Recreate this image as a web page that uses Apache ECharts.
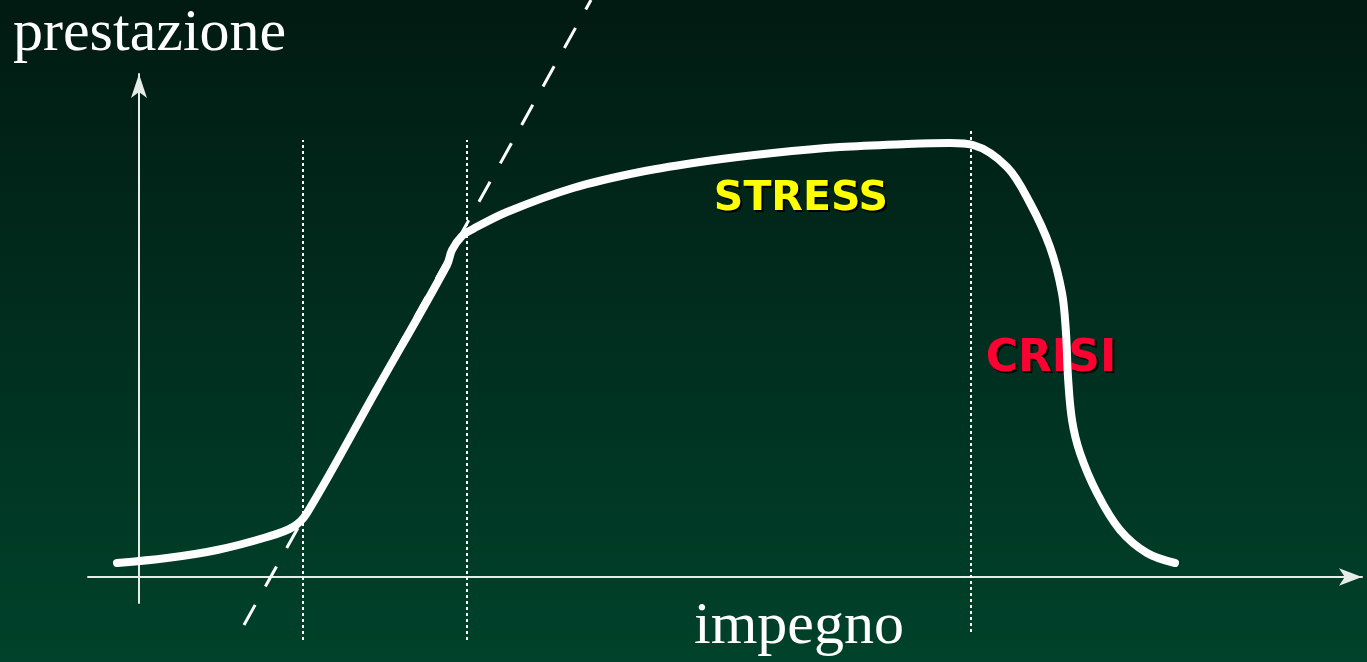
<!DOCTYPE html>
<html>
<head>
<meta charset="utf-8">
<script src="https://cdn.jsdelivr.net/npm/echarts@6/dist/echarts.min.js"></script>
<style>
  html, body { margin: 0; padding: 0; }
  #chart { width: 1367px; height: 662px; }
</style>
</head>
<body>
<div id="chart"></div>
<script>
// units: horizontal = impegno, vertical = prestazione (origin where the axes cross)
const curveX = [-22, 28, 78, 128, 154, 168, 238, 308, 313, 323, 334, 368, 434, 501, 568, 634, 701, 768, 811, 834, 868, 891, 911, 923, 927, 929, 933, 941, 958, 981, 1008, 1036]
const curveY = [14, 19, 27, 40, 50, 64, 188, 312, 327, 341, 348, 365, 389, 405, 416, 424, 430, 433, 434, 432, 410, 374, 330, 284, 244, 200, 157, 124, 84, 47, 24, 14]

// dashed tangent line
const tangentX = [105, 452]
const tangentY = [-48, 577]

// dotted phase separators
const phaseX = [164, 328, 832]
const phaseBottom = [-63, -63, -55]
const phaseTop = [437, 437, 447]

const chart = echarts.init(document.getElementById('chart'))

const pairs = (xs, ys) => xs.map((x, i) => [x, ys[i]])

const phaseSeries = phaseX.map((x, i) => ({
  type: 'line',
  symbol: 'none',
  clip: false,
  silent: true,
  lineStyle: { color: '#ffffff', width: 2, type: [3, 3] },
  data: [[x, phaseBottom[i]], [x, phaseTop[i]]],
}))

const labelText = (text, x, y, font, color, align, shadow) => {
  const items = []
  if (shadow) {
    items.push({
      type: 'text', x: x + 2, y: y + 2, silent: true,
      style: { text, font, fill: '#000000', align, verticalAlign: 'middle' },
    })
  }
  items.push({
    type: 'text', x, y, silent: true,
    style: { text, font, fill: color, align, verticalAlign: 'middle' },
  })
  return items
}

chart.setOption({
  animation: false,
  backgroundColor: {
    type: 'linear', x: 0, y: 0, x2: 0, y2: 1,
    colorStops: [
      { offset: 0, color: '#011a12' },
      { offset: 1, color: '#00422b' },
    ],
  },
  grid: { left: 88, right: 5, top: 74, bottom: 59 },
  xAxis: {
    type: 'value',
    min: -51,
    max: 1223,
    axisLine: {
      onZero: true,
      symbol: ['none', 'arrow'],
      symbolSize: [13, 23],
      lineStyle: { color: '#e6ece8', width: 2 },
    },
    axisTick: { show: false },
    axisLabel: { show: false },
    splitLine: { show: false },
  },
  yAxis: {
    type: 'value',
    min: -26,
    max: 503,
    axisLine: {
      show: true,
      onZero: true,
      symbol: ['none', 'arrow'],
      symbolSize: [12, 24],
      lineStyle: { color: '#e6ece8', width: 2 },
    },
    axisTick: { show: false },
    axisLabel: { show: false },
    splitLine: { show: false },
  },
  series: [
    ...phaseSeries,
    {
      type: 'line',
      symbol: 'none',
      clip: false,
      silent: true,
      lineStyle: { color: '#ffffff', width: 3, type: [23, 21] },
      data: pairs(tangentX, tangentY),
    },
    {
      type: 'line',
      symbol: 'none',
      clip: false,
      silent: true,
      smooth: 0.35,
      lineStyle: { color: '#ffffff', width: 8, cap: 'round', join: 'round' },
      data: pairs(curveX, curveY),
    },
  ],
  graphic: [
    ...labelText('prestazione', 13, 34, '60px "Liberation Serif", serif', '#ffffff', 'left', false),
    ...labelText('impegno', 694, 627, '60px "Liberation Serif", serif', '#ffffff', 'left', false),
    ...labelText('STRESS', 801, 199, 'bold 41px "DejaVu Sans", sans-serif', '#ffff00', 'center', true),
    ...labelText('CRISI', 1051, 360, 'bold 44px "DejaVu Sans", sans-serif', '#ff0033', 'center', true),
  ],
})
</script>
</body>
</html>
